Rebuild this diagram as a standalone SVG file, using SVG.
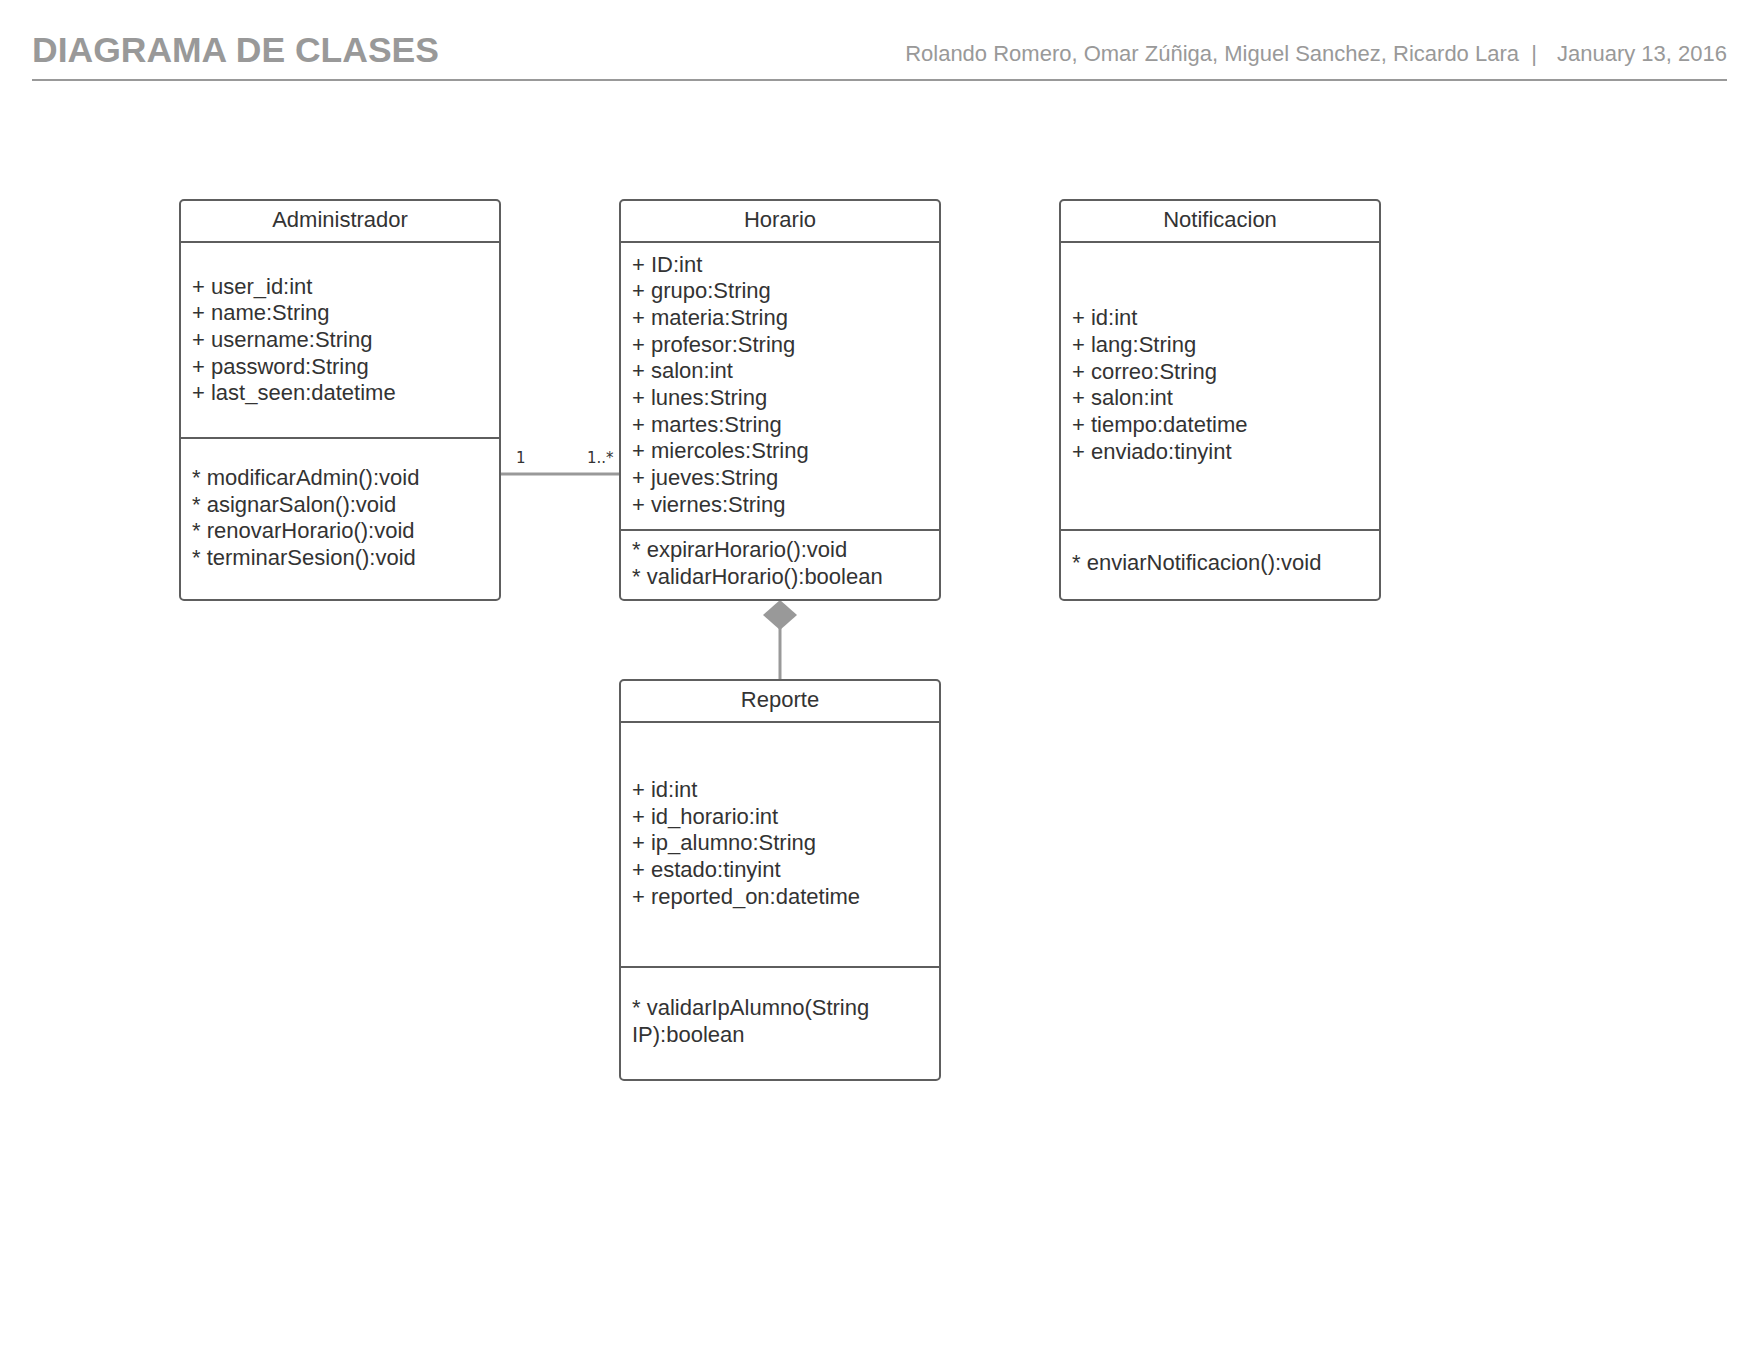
<svg xmlns="http://www.w3.org/2000/svg" width="1760" height="1360" viewBox="0 0 1760 1360">
<style>
.box{fill:#fff;stroke:#5e5e5e;stroke-width:2}
.sep{stroke:#5e5e5e;stroke-width:2}
.t{font-family:"Liberation Sans",Arial,sans-serif;font-size:22px;fill:#333}
.c{text-anchor:middle}
.hdr{font-family:"Liberation Sans",Arial,sans-serif;fill:#999}
.conn{stroke:#999;stroke-width:3;fill:none}
.lbl{font-family:"DejaVu Sans",sans-serif;font-size:15px;fill:#333}
</style>
<rect width="1760" height="1360" fill="#fff"/>
<g id="header">
<text class="hdr" x="32" y="62" font-size="35.5" font-weight="bold">DIAGRAMA DE CLASES</text>
<text class="hdr" x="1519" y="61" font-size="22" text-anchor="end">Rolando Romero, Omar Zúñiga, Miguel Sanchez, Ricardo Lara</text>
<text class="hdr" x="1534" y="61" font-size="22" text-anchor="middle">|</text>
<text class="hdr" x="1727" y="61" font-size="22" text-anchor="end">January 13, 2016</text>
<line x1="32" y1="80" x2="1727" y2="80" stroke="#999" stroke-width="2"/>
</g>
<g id="connectors">
<line class="conn" x1="500" y1="474" x2="620" y2="474"/>
<text class="lbl" x="516" y="463">1</text>
<text class="lbl" x="587" y="463">1..*</text>
<line class="conn" x1="780" y1="628" x2="780" y2="680"/>
<polygon points="780,600 797,615 780,630 763,615" fill="#999"/>
</g>
<g id="Administrador">
<rect class="box" x="180" y="200" width="320" height="400" rx="4"/>
<line class="sep" x1="180" y1="242" x2="500" y2="242"/>
<line class="sep" x1="180" y1="438" x2="500" y2="438"/>
<text class="t c" x="340" y="226.5">Administrador</text>
<text class="t" x="192" y="293.5">+ user_id:int</text>
<text class="t" x="192" y="320.2">+ name:String</text>
<text class="t" x="192" y="346.8">+ username:String</text>
<text class="t" x="192" y="373.5">+ password:String</text>
<text class="t" x="192" y="400.2">+ last_seen:datetime</text>
<text class="t" x="192" y="485">* modificarAdmin():void</text>
<text class="t" x="192" y="511.7">* asignarSalon():void</text>
<text class="t" x="192" y="538.3">* renovarHorario():void</text>
<text class="t" x="192" y="565">* terminarSesion():void</text>
</g>
<g id="Horario">
<rect class="box" x="620" y="200" width="320" height="400" rx="4"/>
<line class="sep" x1="620" y1="242" x2="940" y2="242"/>
<line class="sep" x1="620" y1="530" x2="940" y2="530"/>
<text class="t c" x="780" y="226.5">Horario</text>
<text class="t" x="632" y="271.5">+ ID:int</text>
<text class="t" x="632" y="298.2">+ grupo:String</text>
<text class="t" x="632" y="324.8">+ materia:String</text>
<text class="t" x="632" y="351.5">+ profesor:String</text>
<text class="t" x="632" y="378.2">+ salon:int</text>
<text class="t" x="632" y="404.8">+ lunes:String</text>
<text class="t" x="632" y="431.5">+ martes:String</text>
<text class="t" x="632" y="458.2">+ miercoles:String</text>
<text class="t" x="632" y="484.8">+ jueves:String</text>
<text class="t" x="632" y="511.5">+ viernes:String</text>
<text class="t" x="632" y="557">* expirarHorario():void</text>
<text class="t" x="632" y="583.5">* validarHorario():boolean</text>
</g>
<g id="Notificacion">
<rect class="box" x="1060" y="200" width="320" height="400" rx="4"/>
<line class="sep" x1="1060" y1="242" x2="1380" y2="242"/>
<line class="sep" x1="1060" y1="530" x2="1380" y2="530"/>
<text class="t c" x="1220" y="226.5">Notificacion</text>
<text class="t" x="1072" y="325.2">+ id:int</text>
<text class="t" x="1072" y="351.8">+ lang:String</text>
<text class="t" x="1072" y="378.5">+ correo:String</text>
<text class="t" x="1072" y="405.2">+ salon:int</text>
<text class="t" x="1072" y="431.8">+ tiempo:datetime</text>
<text class="t" x="1072" y="458.5">+ enviado:tinyint</text>
<text class="t" x="1072" y="570">* enviarNotificacion():void</text>
</g>
<g id="Reporte">
<rect class="box" x="620" y="680" width="320" height="400" rx="4"/>
<line class="sep" x1="620" y1="722" x2="940" y2="722"/>
<line class="sep" x1="620" y1="967" x2="940" y2="967"/>
<text class="t c" x="780" y="706.5">Reporte</text>
<text class="t" x="632" y="797">+ id:int</text>
<text class="t" x="632" y="823.7">+ id_horario:int</text>
<text class="t" x="632" y="850.3">+ ip_alumno:String</text>
<text class="t" x="632" y="877">+ estado:tinyint</text>
<text class="t" x="632" y="903.7">+ reported_on:datetime</text>
<text class="t" x="632" y="1015">* validarIpAlumno(String</text>
<text class="t" x="632" y="1041.7">IP):boolean</text>
</g>
</svg>
